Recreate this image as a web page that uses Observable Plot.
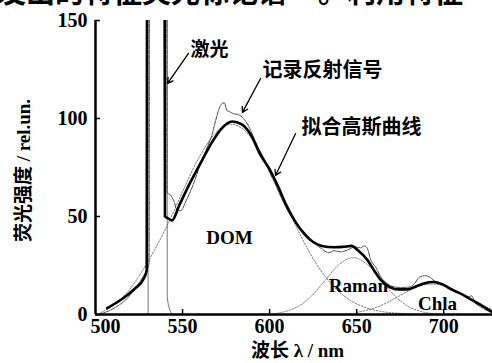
<!DOCTYPE html>
<html>
<head>
<meta charset="utf-8">
<script src="https://cdn.jsdelivr.net/npm/d3@7"></script>
<script src="https://cdn.jsdelivr.net/npm/@observablehq/plot@0.6"></script>
<style>
  html, body { margin: 0; padding: 0; background: white; }
  #wrap { position: relative; width: 492px; height: 363px; overflow: hidden; background: white; }
  #wrap svg { position: absolute; left: 0; top: 0; }
  .hdr { position: absolute; top: -24px; font-family: "Noto Sans CJK SC", sans-serif; font-weight: 700; font-size: 29px; line-height: 1; white-space: nowrap; color: #000; z-index: 2; }
</style>
</head>
<body>
<div id="wrap"></div>
<script>
// Cropped running text from the page above the figure
const headerLeft = "发出的特征荧光标记谱";
const headerRight = "。利用特征";

// Axis ticks
const xTicksFirst = [500];
const xTicks = [550, 600, 650, 700];
const yTicks = [0, 50, 100, 150];
const xTitle = "波长 λ / nm";
const yTitle = "荧光强度 / rel.un.";

// Fitted Gaussian curve (thick): [wavelength nm, intensity]
const fitCurve = [[506.7,3.2],[512,6],[518,9.7],[523,13.5],[527.5,18],[529.4,22.5],[529.6,160],[539.7,160],[539.9,50],[541.5,49.2],[544,48],[548,55.5],[554.5,67.5],[562,80],[567,88],[572,94.5],[578.5,98.5],[584,97],[589,92],[595,81],[600,74],[605,65],[610,55],[615,47],[620,41],[625,37],[630,35],[637,34.3],[642,34.5],[647,35],[651,32.5],[656,28],[660,22.5],[664,17.5],[669,14],[674,12.8],[679,12.8],[684,14.3],[689,16],[694,16.6],[699,15.5],[704,13],[710,10.5],[715,8],[720,5.5],[725,2.8],[728,1.2]];

// Recorded reflected signal (thin)
const recorded = [[503.5,0.5],[508,2],[513,4.5],[518,8],[522,12.5],[526,17.5],[529,22],[530.8,26],[531,160],[540.9,160],[541.1,62],[543,61],[545,58],[547,53],[549,53],[552,58],[556,66],[560,76],[564,85],[567,92],[569,99],[571,105],[572.5,107.5],[574,108],[575.5,104],[577,103.5],[579,102.5],[582,102],[585,100],[588,96],[591,90],[594,84],[597,79],[600,72.5],[603,67],[607,59],[611,52],[615,47],[619,43],[623,39],[627,35.5],[630,33.5],[634,31.5],[637,32.5],[641,32],[645,33],[649,34.5],[652,34],[654.5,35],[656,34],[658,28],[661,24],[664,19],[668,15.5],[672,14],[676,13.8],[680,14],[683,15.5],[686,19],[689,19.8],[692,19],[695,17],[699,15.5],[703,13],[707,11.5],[711,10],[714,9],[716,9.5],[718,6],[721,4],[725,2],[728,0.8]];

// Gaussian components (dotted)
const domBand = [[503,1],[510,4.5],[518,11],[526,21],[534,33],[542,47],[550,62.7],[560,81],[570,93.6],[578,97],[586,93.6],[596,81],[606,62.7],[616,43.5],[626,27],[636,15],[646,7.4],[656,3.3],[666,1.3],[676,0.5],[684,0]];
const ramanBand = [[604,0.5],[608,1.3],[616,3.9],[624,9.4],[632,17.6],[640,25.6],[648,29],[656,25.6],[664,17.6],[672,9.4],[680,3.9],[688,1.3],[696,0.3]];
const chlaBand = [[650,1.1],[658,2.7],[666,5.4],[674,9.2],[682,13],[690,15.3],[694,15.5],[698,15],[706,12.2],[714,8.2],[722,4.6],[728,2.7]];
const laser1 = [[530.2,0],[530.2,160]];
const laser2 = [[541.2,160],[541.2,9],[541.8,5],[542.8,2],[544,0]];

// Annotations (anchored in data units)
const cnLabels = [
  {text: "激光", x: 565.5, y: 135.2, size: 19},
  {text: "记录反射信号", x: 630.4, y: 124.5, size: 20},
  {text: "拟合高斯曲线", x: 652.8, y: 95.4, size: 20}
];
const bandLabels = [
  {text: "DOM", x: 577, y: 39.3},
  {text: "Raman", x: 651, y: 14.8},
  {text: "Chla", x: 696.4, y: 5.6}
];
const arrows = [
  {x1: 553.4, y1: 133.2, x2: 541.4, y2: 117.9},
  {x1: 594.8, y1: 120.4, x2: 584.4, y2: 103.1},
  {x1: 614.9, y1: 92.3, x2: 603.4, y2: 70.9}
];

const px = d => d[0], py = d => d[1];
const dotted = {x: px, y: py, stroke: "#555", strokeWidth: 0.8, strokeDasharray: "1.6,1.6", curve: "monotone-x", clip: true};
const tickFont = {fontSize: 20, fontWeight: "bold", label: null, strokeWidth: 1.5};

const chart = Plot.plot({
  width: 492, height: 363,
  marginLeft: 95, marginRight: 0, marginTop: 20, marginBottom: 49,
  x: {domain: [500, 728]},
  y: {domain: [0, 150]},
  style: {background: "white", color: "black", fontFamily: "'Liberation Serif', serif"},
  marks: [
    Plot.line(domBand, dotted),
    Plot.line(ramanBand, dotted),
    Plot.line(chlaBand, dotted),
    Plot.line(laser1, {x: px, y: py, stroke: "#555", strokeWidth: 0.8, clip: true}),
    Plot.line(laser2, {x: px, y: py, stroke: "#555", strokeWidth: 0.8, clip: true}),
    Plot.line(recorded, {x: px, y: py, stroke: "#333", strokeWidth: 0.9, strokeDasharray: "4,1.2", curve: "monotone-x", clip: true}),
    Plot.line(fitCurve, {x: px, y: py, stroke: "black", strokeWidth: 2.6, curve: "monotone-x", clip: true}),
    Plot.ruleY([0], {stroke: "black", strokeWidth: 2.5}),
    Plot.ruleX([500], {stroke: "black", strokeWidth: 2.5}),
    Plot.axisX(xTicksFirst, {...tickFont, tickSize: 0, tickPadding: 4, dx: 10}),
    Plot.axisX(xTicks, {...tickFont, tickSize: -5, tickPadding: 9}),
    Plot.axisY(yTicks, {...tickFont, tickSize: -5, tickPadding: 13}),
    Plot.text([xTitle], {frameAnchor: "bottom", dy: 42, dx: 3.5, fontSize: 19, fontWeight: "bold", fontFamily: "'Liberation Serif', 'Noto Sans CJK SC', serif"}),
    Plot.text([yTitle], {frameAnchor: "left", textAnchor: "middle", dx: -72, dy: 3, rotate: -90, fontSize: 19, fontWeight: "bold", fontFamily: "'Liberation Serif', 'Noto Sans CJK SC', serif"}),
    Plot.arrow(arrows, {x1: "x1", y1: "y1", x2: "x2", y2: "y2", stroke: "black", strokeWidth: 1.3, headLength: 7}),
    Plot.text(cnLabels, {x: "x", y: "y", text: "text", fontSize: d => d.size, fontWeight: "bold", fontFamily: "'Noto Sans CJK SC', sans-serif"}),
    Plot.text(bandLabels, {x: "x", y: "y", text: "text", fontSize: 19, fontWeight: "bold", fontFamily: "'Liberation Serif', serif"})
  ]
});
const wrap = document.getElementById("wrap");
wrap.appendChild(chart);
const h1 = document.createElement("div");
h1.className = "hdr"; h1.style.left = "-3px"; h1.textContent = headerLeft;
const h2 = document.createElement("div");
h2.className = "hdr"; h2.style.left = "318px"; h2.textContent = headerRight;
wrap.appendChild(h1); wrap.appendChild(h2);
</script>
</body>
</html>
